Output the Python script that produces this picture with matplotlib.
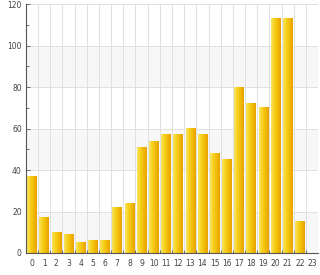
import numpy as np
import matplotlib
matplotlib.use("Agg")
import matplotlib.pyplot as plt
from matplotlib.colors import LinearSegmentedColormap

hours = list(range(24))
counts = [37, 17, 10, 9, 5, 6, 6, 22, 24, 51, 54, 57, 57, 60, 57, 48, 45, 80, 72, 70, 113, 113, 15, 0]
hour_labels = [str(h) for h in hours]

fig = plt.figure(figsize=(3.2, 2.75), dpi=100)
ax = fig.add_axes([0.081, 0.08, 0.913, 0.905])

# alternating bands behind the grid
for y0 in range(0, 120, 40):
    ax.axhspan(y0, y0 + 20, color="#f7f7f7", zorder=0, lw=0)

# grid
for y in range(20, 121, 20):
    ax.axhline(y, color="#e0e0e0", lw=0.7, zorder=1)
for x in np.arange(0.5, 23.6, 1):
    ax.axvline(x, color="#e0e0e0", lw=0.7, zorder=1)

# gradient bars
cmap = LinearSegmentedColormap.from_list("gold", ["#f8e466", "#f6d21c", "#f2bb08", "#e9a000"])
grad = np.linspace(0, 1, 64).reshape(1, -1)
bars = ax.bar(hours, counts, width=0.78, color="none", lw=0, zorder=2)
for b in bars:
    if b.get_height() <= 0:
        continue
    x0, w, h = b.get_x(), b.get_width(), b.get_height()
    ax.imshow(grad, cmap=cmap, aspect="auto", extent=(x0, x0 + w, 0, h),
              zorder=2, interpolation="bilinear")
ax.set_xlim(-0.5, 23.5)
ax.set_ylim(0, 120)

ax.set_xticks(hours)
ax.set_xticklabels(hour_labels)
ax.set_xticks(np.arange(0.5, 23.5, 1), minor=True)
ax.tick_params(axis="x", which="major", length=0, pad=4, labelsize=5.5, labelcolor="#444444")
ax.tick_params(axis="x", which="minor", length=2.5, direction="in", color="#555555", width=0.6)

ax.set_yticks(range(0, 121, 20))
ax.set_yticks(range(10, 120, 20), minor=True)
ax.tick_params(axis="y", which="major", length=3, direction="in", color="#555555", width=0.6,
               labelsize=5.5, labelcolor="#444444", pad=3)
ax.tick_params(axis="y", which="minor", length=2, direction="in", color="#555555", width=0.6)

for side in ["top", "right"]:
    ax.spines[side].set_visible(False)
for side in ["left", "bottom"]:
    ax.spines[side].set_color("#555555")
    ax.spines[side].set_linewidth(0.8)
    ax.spines[side].set_zorder(4)

fig.savefig("out.png", dpi=100)
